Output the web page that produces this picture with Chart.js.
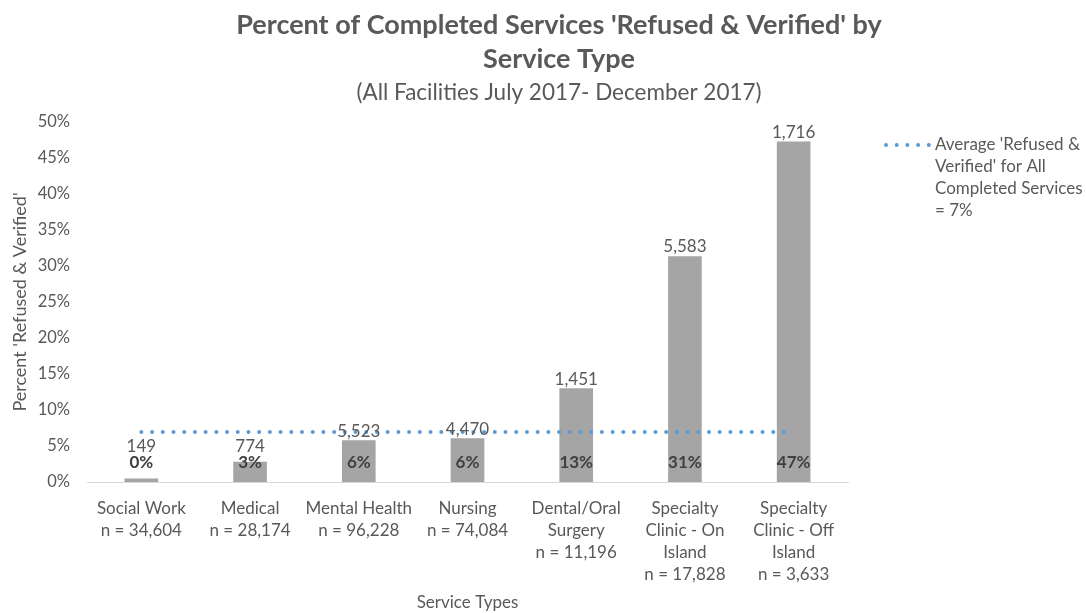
<!DOCTYPE html>
<html>
<head>
<meta charset="utf-8">
<script src="https://cdn.jsdelivr.net/npm/chart.js@4/dist/chart.umd.min.js"></script>
<style>
  html, body { margin: 0; padding: 0; background: #fff; }
  #wrap { width: 1086px; height: 613px; position: relative; }
</style>
</head>
<body>
<div id="wrap"><canvas id="chart"></canvas></div>
<script>
// data
const serviceTypes = [
  ["Social Work", "n = 34,604"],
  ["Medical", "n = 28,174"],
  ["Mental Health", "n = 96,228"],
  ["Nursing", "n = 74,084"],
  ["Dental/Oral", "Surgery", "n = 11,196"],
  ["Specialty", "Clinic - On", "Island", "n = 17,828"],
  ["Specialty", "Clinic - Off", "Island", "n = 3,633"]
];
const percentRefused = [0.43, 2.75, 5.74, 6.03, 12.96, 31.32, 47.23];
const refusedCounts = ["149", "774", "5,523", "4,470", "1,451", "5,583", "1,716"];
const percentLabels = ["0%", "3%", "6%", "6%", "13%", "31%", "47%"];
const averageRefused = [6.94, 6.94, 6.94, 6.94, 6.94, 6.94, 6.94];
const legendLines = ["Average 'Refused &", "Verified' for All", "Completed Services", "= 7%"];
const titleLines = ["Percent of Completed Services 'Refused & Verified' by", "Service Type"];
const subtitle = "(All Facilities July 2017- December 2017)";

const FONT = "Lato, 'Open Sans', sans-serif";
const GREY_TEXT = "#595959";

// titles, bar labels and the legend
const labelsPlugin = {
  id: "labelsPlugin",
  afterDatasetsDraw(chart) {
    const ctx = chart.ctx;
    const bars = chart.getDatasetMeta(1).data;
    const base = chart.scales.y.getPixelForValue(0);
    ctx.save();
    ctx.textAlign = "center";
    bars.forEach((bar, i) => {
      // percent inside the bar, near the base
      ctx.font = "bold 17px " + FONT;
      ctx.fillStyle = "#404040";
      ctx.textBaseline = "middle";
      ctx.fillText(percentLabels[i], bar.x, base - 19);
      // count above the bar
      ctx.font = "17px " + FONT;
      ctx.fillStyle = GREY_TEXT;
      ctx.textBaseline = "alphabetic";
      const y = Math.min(bar.y - 4, base - 30);
      ctx.fillText(refusedCounts[i], bar.x, y);
    });
    ctx.restore();
  },
  afterDraw(chart) {
    const ctx = chart.ctx;
    ctx.save();
    ctx.fillStyle = GREY_TEXT;
    ctx.textAlign = "center";
    ctx.textBaseline = "middle";
    ctx.font = "bold 27px " + FONT;
    ctx.fillText(titleLines[0], 559, 25);
    ctx.fillText(titleLines[1], 559, 59);
    ctx.font = "22.5px " + FONT;
    ctx.fillText(subtitle, 559, 93);

    // legend
    const lineDs = chart.data.datasets[0];
    ctx.fillStyle = lineDs.borderColor;
    for (let k = 0; k < 5; k++) {
      ctx.beginPath();
      ctx.arc(886 + k * 10.7, 145, 2, 0, Math.PI * 2);
      ctx.fill();
    }
    ctx.fillStyle = GREY_TEXT;
    ctx.textAlign = "left";
    ctx.font = "17px " + FONT;
    legendLines.forEach((t, i) => ctx.fillText(t, 935, 145 + i * 22));
    ctx.restore();
  }
};

new Chart(document.getElementById("chart"), {
  data: {
    labels: serviceTypes,
    datasets: [
      {
        type: "line",
        label: legendLines.join(" "),
        data: averageRefused,
        borderColor: "#5B9BD5",
        borderWidth: 4,
        borderDash: [0.01, 10.7],
        borderCapStyle: "round",
        pointRadius: 0,
        fill: false,
        order: 0
      },
      {
        type: "bar",
        label: "Percent Refused & Verified",
        data: percentRefused,
        backgroundColor: "#A5A5A5",
        barThickness: 33,
        order: 1
      }
    ]
  },
  plugins: [labelsPlugin],
  options: {
    responsive: true,
    maintainAspectRatio: false,
    animation: false,
    layout: { padding: { left: 0, right: 238, top: 122, bottom: 0 } },
    plugins: {
      legend: { display: false },
      title: { display: false },
      tooltip: { enabled: false }
    },
    scales: {
      x: {
        grid: { display: false, drawTicks: false },
        border: { display: true, color: "#D9D9D9", width: 1 },
        ticks: {
          color: GREY_TEXT,
          font: { family: FONT, size: 17, lineHeight: 1.3 },
          padding: 15,
          maxRotation: 0,
          autoSkip: false
        },
        title: {
          display: true,
          text: "Service Types",
          color: GREY_TEXT,
          font: { family: FONT, size: 17 },
          padding: 0
        },
        afterFit(scale) { scale.height = 131; }
      },
      y: {
        min: 0,
        max: 50,
        grid: { display: false, drawTicks: false },
        border: { display: false },
        ticks: {
          stepSize: 5,
          color: GREY_TEXT,
          font: { family: FONT, size: 16.5 },
          padding: 17,
          callback: (v) => v + "%"
        },
        title: {
          display: true,
          text: "Percent 'Refused & Verified'",
          color: GREY_TEXT,
          font: { family: FONT, size: 18 },
          padding: { top: 9, bottom: 0 }
        },
        afterFit(scale) { scale.width = 87; }
      }
    }
  }
});
</script>
</body>
</html>
